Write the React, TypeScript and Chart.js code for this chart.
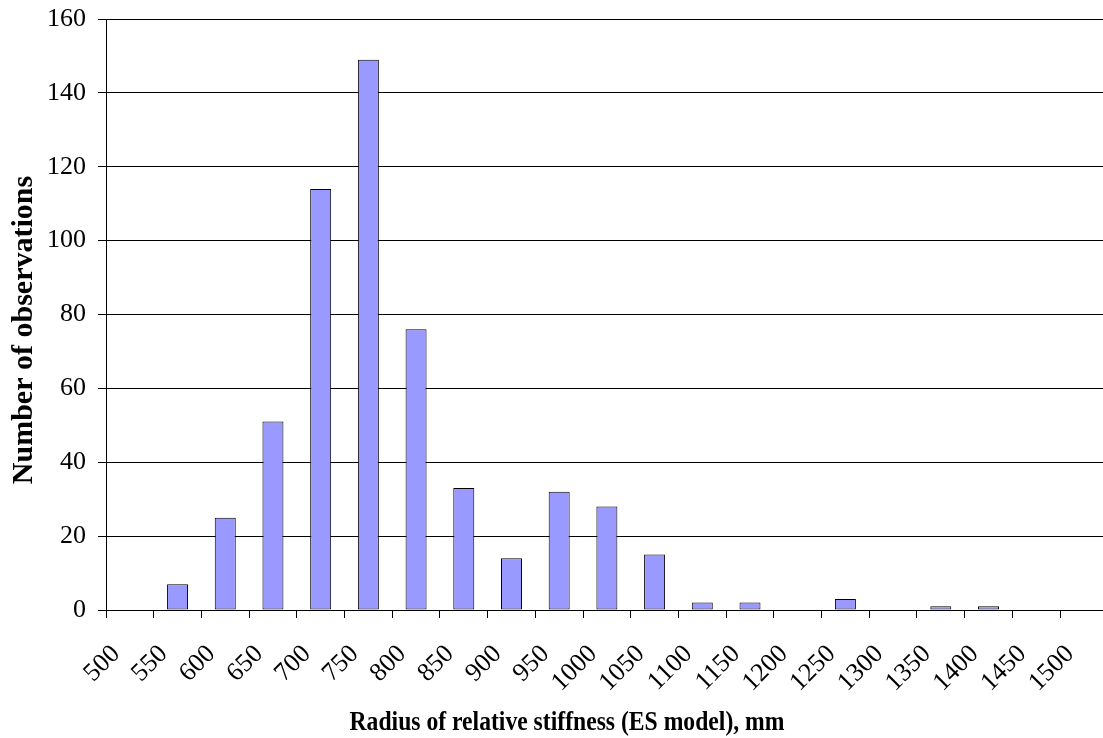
import React, { useEffect, useRef } from "react";
import { Chart, registerables } from "chart.js";

Chart.register(...registerables);

// Bin centers (mm) and counts
const binCenters = [525, 575, 625, 675, 725, 775, 825, 875, 925, 975, 1025, 1075, 1125, 1175, 1225, 1275, 1325, 1375, 1425, 1475];
const counts = [0, 7, 25, 51, 114, 149, 76, 33, 14, 32, 28, 15, 2, 2, 0, 3, 0, 1, 1, 0];
const xTickValues = [500, 550, 600, 650, 700, 750, 800, 850, 900, 950, 1000, 1050, 1100, 1150, 1200, 1250, 1300, 1350, 1400, 1450, 1500];
const yTickValues = [0, 20, 40, 60, 80, 100, 120, 140, 160];
const xTitle = "Radius of relative stiffness (ES model), mm";
const yTitle = "Number of observations";

const FONT = "'Liberation Serif', 'Times New Roman', serif";

export default function App() {
  const ref = useRef<HTMLCanvasElement | null>(null);

  useEffect(() => {
    if (!ref.current) return;
    const titlePlugin = {
      id: "axisTitles",
      afterDraw(chart: any) {
        const ctx = chart.ctx;
        ctx.save();
        ctx.fillStyle = "#000";
        ctx.textAlign = "center";
        ctx.textBaseline = "alphabetic";
        ctx.font = `bold 24px ${FONT}`;
        ctx.translate(567, 730);
        ctx.scale(0.985, 1.15);
        ctx.fillText(xTitle, 0, 0);
        ctx.restore();
        ctx.save();
        ctx.fillStyle = "#000";
        ctx.textAlign = "center";
        ctx.textBaseline = "alphabetic";
        ctx.font = `bold 30px ${FONT}`;
        ctx.translate(32, 330);
        ctx.rotate(-Math.PI / 2);
        ctx.fillText(yTitle, 0, 0);
        ctx.restore();
      },
    };
    const chart = new Chart(ref.current, {
      type: "bar",
      data: {
        datasets: [
          {
            data: binCenters.map((x, i) => ({ x, y: counts[i] })),
            backgroundColor: "#9999FF",
            borderColor: "#000000",
            borderWidth: 1,
            borderSkipped: false,
            categoryPercentage: 1,
            barPercentage: 0.44,
          },
        ],
      },
      options: {
        animation: false,
        responsive: false,
        devicePixelRatio: 1,
        layout: { padding: { top: 19, left: 0, right: 0, bottom: 0 } },
        plugins: { legend: { display: false }, tooltip: { enabled: false } },
        scales: {
          x: {
            type: "linear",
            min: 500,
            max: 1545,
            offset: false,
            afterBuildTicks: (scale: any) => {
              scale.ticks = xTickValues.map((v) => ({ value: v }));
            },
            afterFit: (scale: any) => {
              scale.height = 128;
              scale.paddingLeft = 0;
              scale.paddingRight = 0;
            },
            ticks: {
              minRotation: 45,
              maxRotation: 45,
              padding: 21,
              labelOffset: 10,
              color: "#000",
              font: { family: FONT, size: 26 },
              callback: (v: any) => String(v),
            },
            grid: {
              offset: false,
              drawOnChartArea: false,
              drawTicks: true,
              tickLength: 8,
              tickColor: "#000",
            },
            border: { display: true, color: "#000", width: 1 },
          },
          y: {
            min: 0,
            max: 160,
            afterBuildTicks: (scale: any) => {
              scale.ticks = yTickValues.map((v) => ({ value: v }));
            },
            afterFit: (scale: any) => {
              scale.width = 106;
              scale.paddingTop = 0;
              scale.paddingBottom = 0;
            },
            ticks: {
              padding: 12,
              color: "#000",
              font: { family: FONT, size: 26 },
            },
            grid: {
              color: "#000",
              lineWidth: 1,
              drawTicks: true,
              tickLength: 8,
              tickColor: "#000",
            },
            border: { display: true, color: "#000", width: 1 },
          },
        },
      },
      plugins: [titlePlugin],
    });
    return () => chart.destroy();
  }, []);

  return (
    <div style={{ position: "absolute", left: 0, top: 0, width: 1103, height: 738, background: "#fff" }}>
      <canvas ref={ref} width={1103} height={738} />
    </div>
  );
}
